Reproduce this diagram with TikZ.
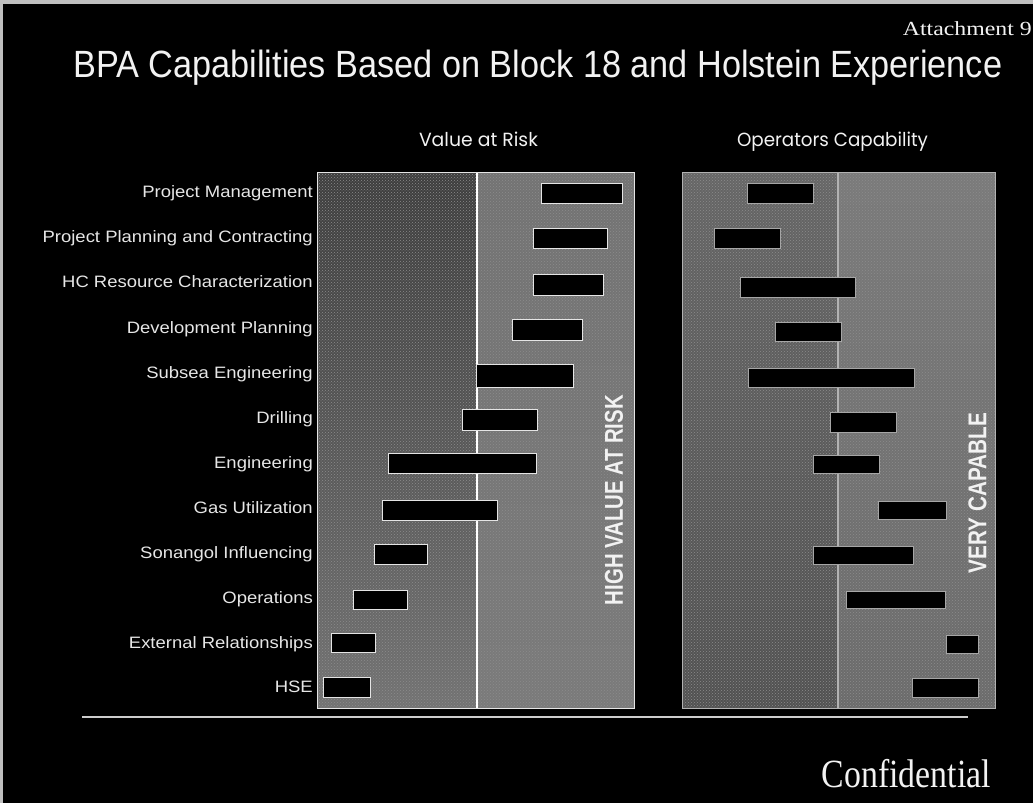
\documentclass[tikz,border=0pt]{standalone}
\usepackage{fontspec}
\usetikzlibrary{patterns}
\setmainfont{Liberation Sans}
\newfontfamily\seriffont{Liberation Serif}
\newfontfamily\geofont{Poppins}
\definecolor{txt}{HTML}{F2F2F2}
\definecolor{lbl}{HTML}{E6E6E6}
\begin{document}
\begin{tikzpicture}[x=1pt,y=-1pt,
  lbltext/.style={anchor=base east, text=lbl, inner sep=0pt,
    font=\fontsize{16.5}{18}\selectfont},
  barL/.style={fill=black, draw=white!90!black, line width=0.9pt, inner sep=0pt},
  barR/.style={fill=black, draw=white!65!black, line width=0.8pt, inner sep=0pt},
  vtext/.style={rotate=90, text=txt, inner sep=0pt, font=\bfseries},
  grain/.style={pattern=crosshatch dots, pattern color=black!45}]
\useasboundingbox (0,0) rectangle (1033,803);
\fill[black] (0,0) rectangle (1033,803);
\fill[white!75!black] (0,0) rectangle (1033,4);
\fill[white!75!black] (0,0) rectangle (3,803);

% title
\node[anchor=base west, text=txt, inner sep=0pt] (title) at (73,77)
  {\resizebox{929pt}{27.5pt}{BPA Capabilities Based on Block 18 and Holstein Experience}};
\node[anchor=base east, text=txt, inner sep=0pt] (att) at (1032,35)
  {\scalebox{1.19}[1]{\seriffont\fontsize{20}{22}\selectfont Attachment 9}};

% headings
\node[anchor=base, text=txt, inner sep=0pt] (hvar) at (478.5,146)
  {\resizebox{119pt}{14.5pt}{\geofont Value at Risk}};
\node[anchor=base, text=txt, inner sep=0pt] (hcap) at (832.5,146)
  {\resizebox{191pt}{14.5pt}{\geofont Operators Capability}};

% panels
\shade[top color=black!76, bottom color=black!55] (317,172) rectangle (477,708);
\shade[top color=black!55, middle color=black!68, bottom color=black!52] (477,172) rectangle (634,708);
\shade[top color=black!60, bottom color=black!68] (682,172) rectangle (838,708);
\shade[top color=black!52, bottom color=black!58] (838,172) rectangle (995,708);
\fill[grain] (317,172) rectangle (634,708);
\fill[grain] (682,172) rectangle (995,708);

\draw[white, line width=2pt] (477,172) -- (477,708);
\draw[white!70!black, line width=1.5pt] (838,172) -- (838,708);

% left panel bars
\foreach \i/\a/\b/\c/\d in {1/541/622/183/203, 2/533/607/228/248, 3/533/603/274/295,
  4/512/582/319/340, 5/476/573/364/387, 6/462/537/409/430, 7/388/536/453/473,
  8/382/497/500/520, 9/374/427/544/564, 10/353/407/590/609, 11/331/375/633/652,
  12/323/370/677/697}
  \node[barL, minimum width={(\b-\a)*1pt}, minimum height={(\d-\c)*1pt}] (a\i)
    at ({(\a+\b)/2},{(\c+\d)/2}) {};

% right panel bars
\foreach \i/\a/\b/\c/\d in {1/747/813/183/203, 2/714/780/228/248, 3/740/855/277/297,
  4/775/841/322/341, 5/748/914/368/387, 6/830/896/412/432, 7/813/879/455/473,
  8/878/946/501/519, 9/813/913/546/564, 10/846/945/591/608, 11/946/978/635/653,
  12/912/978/678/697}
  \node[barR, minimum width={(\b-\a)*1pt}, minimum height={(\d-\c)*1pt}] (c\i)
    at ({(\a+\b)/2},{(\c+\d)/2}) {};

% vertical texts
\node[vtext] (hv) at (614,500) {\resizebox{210pt}{18pt}{\bfseries HIGH VALUE AT RISK}};
\node[vtext] (vc) at (977.5,493) {\resizebox{160pt}{18pt}{\bfseries VERY CAPABLE}};

% panel borders
\draw[white!90!black, line width=1pt] (317,172) rectangle (634,708);
\draw[white!70!black, line width=1pt] (682,172) rectangle (995,708);

% row labels
\foreach \i/\y/\t in {1/197/Project Management, 2/242/Project Planning and Contracting,
  3/287/HC Resource Characterization, 4/333/Development Planning,
  5/378/Subsea Engineering, 6/423/Drilling, 7/468/Engineering,
  8/513/Gas Utilization, 9/558/Sonangol Influencing, 10/603/Operations,
  11/648/External Relationships, 12/692/HSE}
  \node[lbltext] (l\i) at (313,\y) {\scalebox{1.12}[1]{\t}};

% footer
\draw[white!80!black, line width=1.5pt] (82,717) -- (968,717);
\node[anchor=base east, text=txt, inner sep=0pt] (conf) at (991,787)
  {\scalebox{0.845}[1]{\seriffont\fontsize{40}{44}\selectfont Confidential}};
\end{tikzpicture}
\end{document}
